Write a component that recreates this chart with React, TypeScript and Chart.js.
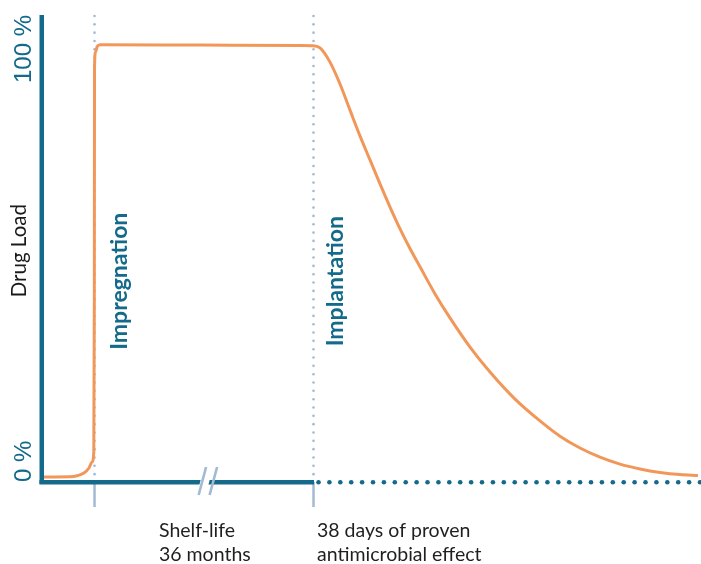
import React, { useEffect, useRef } from "react";
import { Chart, registerables } from "chart.js";

Chart.register(...registerables);

// ---- data ----
const X_MIN = 0;
const X_MAX = 100;
const Y_MIN = 0;
const Y_MAX = 107;

const curveX = [0.3, 4.25, 5.46, 6.37, 7.13, 7.59, 7.86, 7.94, 7.97, 8.12, 8.38, 8.8, 23.98, 39.15, 41.12, 42.19, 43.7, 45.22, 46.74, 48.25, 49.77, 51.29, 52.81, 54.33, 55.84, 57.36, 59.64, 61.91, 64.95, 67.98, 71.78, 75.57, 78.6, 81.64, 84.67, 87.71, 90.74, 93.78, 96.81, 99.54];
const curveY = [1.15, 1.19, 1.49, 2.06, 3.21, 4.58, 6.87, 41.7, 95.0, 98.5, 99.8, 100.2, 100.1, 100.0, 99.97, 99.44, 96.2, 91.2, 85.2, 79.3, 73.8, 68.3, 63.0, 58.0, 53.5, 49.3, 43.1, 37.6, 30.9, 25.2, 19.0, 14.0, 10.5, 7.8, 5.7, 4.1, 3.0, 2.2, 1.7, 1.5];

const eventX = [7.97, 41.2];
const eventLabels = ["Impregnation", "Implantation"];
const breakX = 24.6;
const yTickValues = [0, 100];
const yTickLabels = ["0 %", "100 %"];
const yAxisTitle = "Drug Load";
const captionX = [17.75, 41.73];
const captions = [
  ["Shelf-life", "36 months"],
  ["38 days of proven", "antimicrobial effect"],
];

// ---- styles ----
const TEAL = "#136a8b";
const ORANGE = "#f2975a";
const LIGHT = "#a2bad3";
const FONT = "Lato, 'Open Sans', sans-serif";

const decor = {
  id: "decor",
  beforeDatasetsDraw(chart: any) {
    const { ctx, chartArea, scales } = chart;
    const xs = scales.x;
    const ys = scales.y;
    const y0 = ys.getPixelForValue(0);
    const left = chartArea.left;
    const top = chartArea.top;
    const right = chart.width;
    const e1 = xs.getPixelForValue(eventX[0]);
    const e2 = xs.getPixelForValue(eventX[1]);
    ctx.save();
    // vertical dotted event lines
    ctx.fillStyle = LIGHT;
    for (const ex of [e1, e2]) {
      for (let y = top + 1; y < y0 - 4; y += 8.33) {
        ctx.beginPath();
        ctx.arc(ex, y, 1.3, 0, Math.PI * 2);
        ctx.fill();
      }
    }
    // ticks below axis
    ctx.strokeStyle = LIGHT;
    ctx.lineWidth = 2.5;
    for (const ex of [e1, e2]) {
      ctx.beginPath();
      ctx.moveTo(ex, y0);
      ctx.lineTo(ex, y0 + 25);
      ctx.stroke();
    }
    // axes
    ctx.fillStyle = TEAL;
    ctx.fillRect(left - 2.5, top, 4.5, y0 - top + 2);
    ctx.fillRect(left - 2.5, y0 - 2, e2 - left + 3, 4.5);
    // dotted continuation
    for (let x = e2 + 5; x < right + 2; x += 10.9) {
      ctx.beginPath();
      ctx.arc(x, y0 + 0.2, 2.3, 0, Math.PI * 2);
      ctx.fill();
    }
    // break mark
    const bx = xs.getPixelForValue(breakX);
    ctx.fillStyle = "#ffffff";
    ctx.beginPath();
    ctx.moveTo(bx - 3, y0 - 4);
    ctx.lineTo(bx + 6, y0 - 4);
    ctx.lineTo(bx + 4, y0 + 4);
    ctx.lineTo(bx - 5, y0 + 4);
    ctx.closePath();
    ctx.fill();
    ctx.strokeStyle = LIGHT;
    ctx.lineWidth = 2.6;
    for (const off of [-2, 9]) {
      ctx.beginPath();
      ctx.moveTo(bx + off + 4, y0 - 15);
      ctx.lineTo(bx + off - 3.5, y0 + 13);
      ctx.stroke();
    }

    // y tick labels (rotated)
    ctx.fillStyle = TEAL;
    ctx.font = `24px 'Liberation Sans', Arial, sans-serif`;
    ctx.textBaseline = "alphabetic";
    for (let i = 0; i < yTickValues.length; i++) {
      const py = yTickValues[i] === 0 ? y0 : top;
      ctx.save();
      ctx.translate(30.5, py);
      ctx.rotate(-Math.PI / 2);
      ctx.textAlign = yTickValues[i] === 0 ? "left" : "right";
      ctx.fillText(yTickLabels[i], 0, 0);
      ctx.restore();
    }
    // y axis title
    ctx.fillStyle = "#1a1a1a";
    ctx.font = `20.5px ${FONT}`;
    ctx.save();
    ctx.translate(26, ys.getPixelForValue(53));
    ctx.rotate(-Math.PI / 2);
    ctx.textAlign = "center";
    ctx.fillText(yAxisTitle, 0, 0);
    ctx.restore();

    // event labels
    ctx.fillStyle = TEAL;
    ctx.font = `bold 23px ${FONT}`;
    const offs = [32.5, 29];
    for (let i = 0; i < eventX.length; i++) {
      const ex = xs.getPixelForValue(eventX[i]);
      ctx.save();
      ctx.translate(ex + offs[i], ys.getPixelForValue(46));
      ctx.rotate(-Math.PI / 2);
      ctx.textAlign = "center";
      ctx.fillText(eventLabels[i], 0, 0);
      ctx.restore();
    }

    // captions
    ctx.fillStyle = "#1f1f1f";
    ctx.font = `19.5px ${FONT}`;
    ctx.textAlign = "left";
    for (let i = 0; i < captions.length; i++) {
      const cx = xs.getPixelForValue(captionX[i]);
      captions[i].forEach((line, j) => {
        ctx.fillText(line, cx, y0 + 55 + j * 24);
      });
    }
    ctx.restore();
  },
};

export default function App() {
  const ref = useRef<HTMLCanvasElement | null>(null);
  useEffect(() => {
    if (!ref.current) return;
    const chart = new Chart(ref.current, {
      type: "line",
      data: {
        datasets: [
          {
            data: curveX.map((x, i) => ({ x, y: curveY[i] })),
            borderColor: ORANGE,
            borderWidth: 3,
            pointRadius: 0,
            cubicInterpolationMode: "monotone",
            fill: false,
          },
        ],
      },
      options: {
        animation: false,
        responsive: false,
        devicePixelRatio: 1,
        layout: { padding: { left: 42, right: 0, top: 15, bottom: 82 } },
        plugins: { legend: { display: false }, tooltip: { enabled: false } },
        scales: {
          x: { type: "linear", min: X_MIN, max: X_MAX, display: false },
          y: { type: "linear", min: Y_MIN, max: Y_MAX, display: false },
        },
      },
      plugins: [decor],
    });
    return () => chart.destroy();
  }, []);
  return (
    <div style={{ position: "fixed", left: 0, top: 0, width: 701, height: 564, background: "#fff" }}>
      <canvas ref={ref} width={701} height={564} style={{ display: "block" }} />
    </div>
  );
}
